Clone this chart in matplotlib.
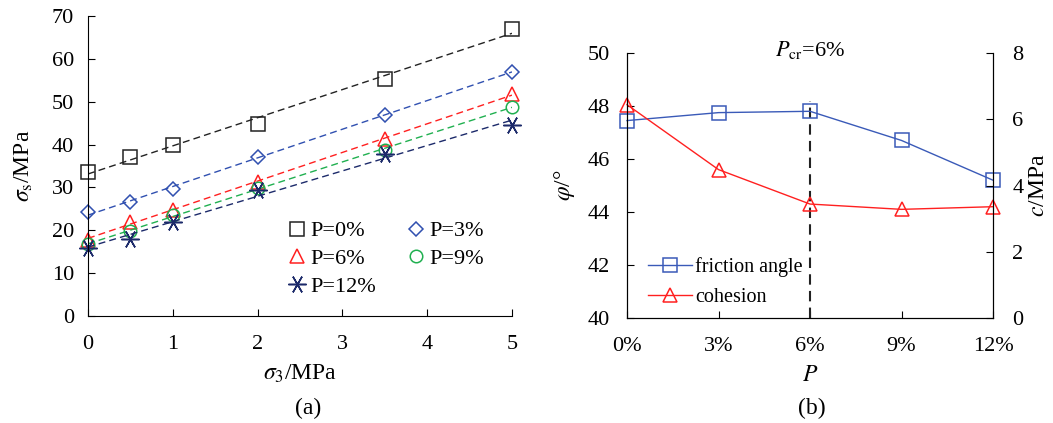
import numpy as np
import matplotlib
matplotlib.use("Agg")
import matplotlib.pyplot as plt

plt.rcParams['font.family'] = ['Liberation Serif', 'DejaVu Serif']
plt.rcParams['mathtext.fontset'] = 'stix'
plt.rcParams['font.size'] = 16

# (a) strength vs confining pressure
sigma3 = [0, 0.5, 1, 2, 3.5, 5]
p0 = [33.5, 37.0, 40.0, 44.8, 55.3, 67.0]
p3 = [24.2, 26.5, 29.7, 37.0, 47.0, 57.0]
p6 = [17.8, 22.0, 24.8, 31.3, 41.3, 51.7]
p9 = [16.8, 19.8, 23.5, 29.8, 38.8, 48.8]
p12 = [15.8, 18.0, 22.0, 29.5, 37.8, 44.5]
labels_a = ["P=0%", "P=3%", "P=6%", "P=9%", "P=12%"]

# (b) strength parameters vs P
p_cats = ["0%", "3%", "6%", "9%", "12%"]
phi = [47.45, 47.75, 47.8, 46.7, 45.2]
cohesion = [6.44, 4.48, 3.44, 3.28, 3.36]

fig = plt.figure(figsize=(10.53, 4.23), dpi=100)
ax1 = fig.add_axes([88/1053, 1-316/423, (512-88)/1053, 300/423])
ax2 = fig.add_axes([627/1053, 1-318/423, (993-627)/1053, 265/423])

series = [p0, p3, p6, p9, p12]
colors = ['#222222', '#3050b0', '#ff2020', '#20b050', '#1c2a6a']
markers = ['s', 'D', '^', 'o', (6, 2, 90)]
msizes = [10, 7, 10, 9, 13]
xs = np.array(sigma3)
xx = np.linspace(0, 5, 50)
handles = []
for ys, c, m, ms, lab in zip(series, colors, markers, msizes, labels_a):
    k, b = np.polyfit(xs, ys, 1)
    ax1.plot(xx, k*xx + b, ls=(0, (5, 3)), color=c, lw=1)
    h, = ax1.plot(xs, ys, ls='none', marker=m, ms=ms, mfc='none', mec=c, mew=1.1,
                  label=lab, color=c, clip_on=False)
    handles.append(h)

ax1.set_xlim(0, 5)
ax1.set_ylim(0, 70)
ax1.set_xticks(range(6))
ax1.set_yticks(range(0, 71, 10))
ax1.spines['top'].set_visible(False)
ax1.spines['right'].set_visible(False)
ax1.tick_params(direction='in', length=5, labelsize=16)
ax1.tick_params(axis='x', pad=14)
ax1.tick_params(axis='y', pad=10)
ax1.set_xlabel(r'$\sigma_3$/MPa', fontsize=17, labelpad=6)
ax1.set_ylabel(r'$\sigma_{\rm s}$/MPa', fontsize=17, labelpad=12)
order = [0, 2, 4, 1, 3]
ax1.legend([handles[i] for i in order], [labels_a[i] for i in order], ncol=2,
           frameon=False, loc='lower left', bbox_to_anchor=(0.45, 0.035),
           fontsize=16, handlelength=0.8, handletextpad=0.2, columnspacing=1.4,
           labelspacing=0.32, borderaxespad=0)
fig.text(308/1053, 1-408/423, '(a)', ha='center', va='center', fontsize=17)

xb = np.arange(len(p_cats))
ax2.plot(xb, phi, color='#3a5ab8', marker='s', ms=10, mfc='none', mew=1.1, lw=1,
         label='friction angle', clip_on=False, zorder=3)
ax3 = ax2.twinx()
ax3.plot(xb, cohesion, color='#ff2020', marker='^', ms=10, mfc='none', mew=1.1, lw=1,
         clip_on=False)
ax2.plot([], [], color='#ff2020', marker='^', ms=10, mfc='none', mew=1.1, lw=1, label='cohesion')
ax2.plot([2, 2], [40, 48.2], color='#222222', ls=(0, (5, 3)), lw=1.5)

ax2.set_xlim(0, 4)
ax2.set_ylim(40, 50)
ax3.set_ylim(0, 8)
ax2.set_xticks(xb)
ax2.set_xticklabels(p_cats)
ax2.set_yticks(range(40, 51, 2))
ax3.set_yticks(range(0, 9, 2))
for a in (ax2, ax3):
    a.spines['top'].set_visible(False)
    a.tick_params(direction='in', length=5, labelsize=16)
ax2.tick_params(axis='x', pad=14)
ax2.tick_params(axis='y', pad=12)
ax3.tick_params(axis='y', pad=14)
ax2.set_xlabel(r'$P$', fontsize=17, labelpad=6)
ax2.set_ylabel(r'$\varphi$/°', fontsize=17, labelpad=8)
ax3.set_ylabel(r'$c$/MPa', fontsize=17, labelpad=3)
ax2.text(2, 50.1, r'$P_{\rm cr}$=6%', ha='center', va='center', fontsize=16)
ax2.legend(frameon=False, loc='lower left', bbox_to_anchor=(0.035, 0.01), fontsize=14.5,
           handlelength=2.2, handletextpad=0.15, labelspacing=0.55, borderaxespad=0)
fig.text(812/1053, 1-408/423, '(b)', ha='center', va='center', fontsize=17)

fig.savefig('out.png', dpi=100)
